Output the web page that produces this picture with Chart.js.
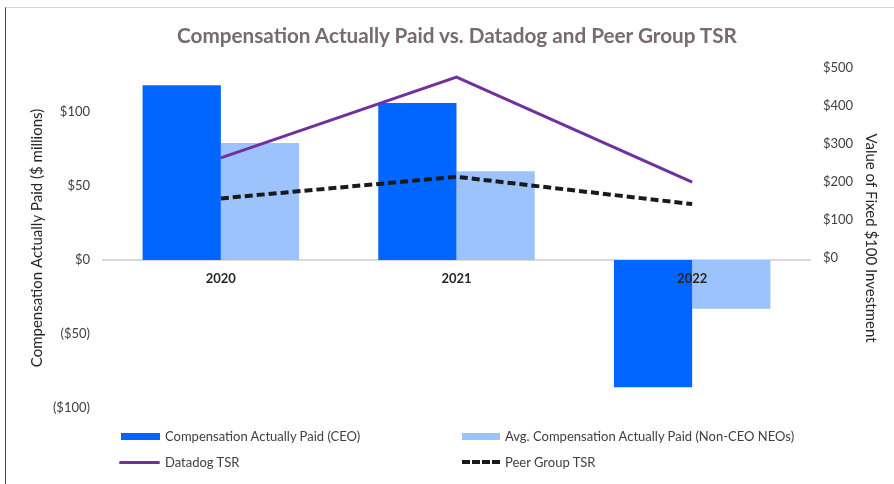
<!DOCTYPE html>
<html>
<head>
<meta charset="utf-8">
<script src="https://cdn.jsdelivr.net/npm/chart.js@4/dist/chart.umd.min.js"></script>
<style>
  body { margin: 0; background: #fff; }
  #wrap { position: relative; width: 894px; height: 484px; overflow: hidden; }
  #frame { position: absolute; left: 5px; top: 7px; right: 0; bottom: 0; border-left: 1px solid #444; border-top: 1px solid #d6d6d6; }
  canvas { position: absolute; left: 0; top: 0; }
  #title { position: absolute; left: 0; width: 914px; top: 23px; text-align: center; font: bold 20.7px Lato, sans-serif; color: #776a70; }
  .lg { position: absolute; font: 13px Lato, sans-serif; color: #404040; display: flex; align-items: center; }
  .sw { display: inline-block; margin-right: 5px; }
</style>
</head>
<body>
<div id="wrap">
  <div id="frame"></div>
  <canvas id="chart" width="894" height="484"></canvas>
  <div id="title">Compensation Actually Paid vs. Datadog and Peer Group TSR</div>
  <div class="lg" style="left:121px; top:428px;"><span class="sw" style="width:39px;height:7px;background:#0066ff"></span>Compensation Actually Paid (CEO)</div>
  <div class="lg" style="left:462px; top:428px;"><span class="sw" style="width:38px;height:7px;background:#9cc3fb"></span>Avg. Compensation Actually Paid (Non-CEO NEOs)</div>
  <div class="lg" style="left:119px; top:454px;"><span class="sw" style="width:41px;height:3px;border-radius:2px;background:#7030a0"></span>Datadog TSR</div>
  <div class="lg" style="left:462px; top:454px;"><span class="sw" style="width:38px;height:0;border-top:4px dashed #1a1a1a"></span>Peer Group TSR</div>
</div>
<script>
const years = ['2020', '2021', '2022'];
const ceoPaid = [118, 106, -86];
const neoPaid = [79, 60, -33];
const datadogTsr = [263, 476, 199];
const peerTsr = [156, 213, 141];
const leftTicks = [-100, -50, 0, 50, 100];
const rightTicks = [0, 100, 200, 300, 400, 500];

const font = 'Lato';
const money = v => v < 0 ? '($' + (-v) + ')' : '$' + v;

new Chart(document.getElementById('chart'), {
    type: 'bar',
    data: {
        labels: years,
        datasets: [{
            label: 'Compensation Actually Paid (CEO)',
            data: ceoPaid,
            backgroundColor: '#0066ff',
            yAxisID: 'y',
            order: 2
        }, {
            label: 'Avg. Compensation Actually Paid (Non-CEO NEOs)',
            data: neoPaid,
            backgroundColor: '#9cc3fb',
            yAxisID: 'y',
            order: 2
        }, {
            type: 'line',
            label: 'Datadog TSR',
            data: datadogTsr,
            borderColor: '#7030a0',
            borderWidth: 3,
            pointRadius: 0,
            yAxisID: 'y1',
            order: 1
        }, {
            type: 'line',
            label: 'Peer Group TSR',
            data: peerTsr,
            borderColor: '#1a1a1a',
            borderWidth: 4,
            borderDash: [8, 4],
            pointRadius: 0,
            yAxisID: 'y1',
            order: 0
        }]
    },
    options: {
        responsive: false,
        animation: false,
        layout: { padding: { left: 0, right: 0, top: 68, bottom: 76 } },
        datasets: {
            bar: { categoryPercentage: 0.664, barPercentage: 1 }
        },
        plugins: {
            legend: { display: false },
            tooltip: { enabled: false },
            title: { display: false }
        },
        scales: {
            x: {
                position: { y: 0 },
                grid: { display: false },
                border: { display: true, color: '#d9d9d9', width: 2 },
                ticks: {
                    z: 1, // year labels sit on top of the 2022 bars
                    color: '#262626',
                    padding: 3,
                    font: { family: font, size: 13, weight: 'bold' }
                }
            },
            y: {
                position: 'left',
                min: -100,
                max: 129.7,
                afterBuildTicks: s => { s.ticks = leftTicks.map(v => ({ value: v })); },
                afterFit: s => { s.width = 103; },
                grid: { display: false },
                border: { display: false },
                ticks: {
                    color: '#404040',
                    padding: 5,
                    font: { family: font, size: 13 },
                    callback: money
                },
                title: {
                    display: true,
                    text: 'Compensation Actually Paid ($ millions)',
                    color: '#262626',
                    font: { family: font, size: 15 },
                    padding: { top: 28, bottom: 0 }
                }
            },
            y1: {
                position: 'right',
                min: -397,
                max: 500,
                afterBuildTicks: s => { s.ticks = rightTicks.map(v => ({ value: v })); },
                afterFit: s => { s.width = 84; },
                grid: { display: false },
                border: { display: false },
                ticks: {
                    color: '#404040',
                    padding: 5,
                    font: { family: font, size: 13 },
                    callback: money
                },
                title: {
                    display: true,
                    text: 'Value of Fixed $100 Investment',
                    color: '#262626',
                    font: { family: font, size: 15 },
                    padding: { top: 14, bottom: 0 }
                }
            }
        }
    }
});
</script>
</body>
</html>
